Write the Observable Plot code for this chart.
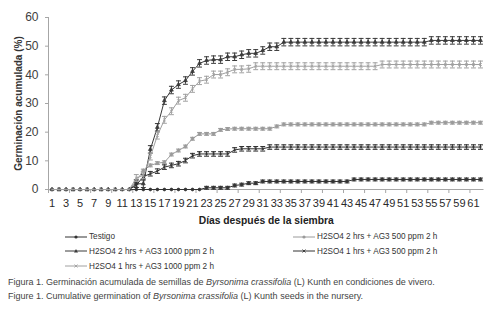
<!DOCTYPE html>
<html><head><meta charset="utf-8">
<script src="https://cdn.jsdelivr.net/npm/d3@7"></script>
<script src="https://cdn.jsdelivr.net/npm/@observablehq/plot@0.6"></script>
<style>
body{margin:0;background:#fff;}
#wrap{position:relative;width:491px;height:316px;overflow:hidden;font-family:"Liberation Sans",Arial,sans-serif;}
.leg{position:absolute;font-size:8.2px;color:#333;white-space:nowrap;display:flex;align-items:center;}
.leg svg{margin-right:1px;}
.cap{position:absolute;left:8px;font-size:9px;color:#444;white-space:nowrap;font-family:"Liberation Sans",sans-serif;}
</style></head>
<body><div id="wrap"></div>
<script>
// ---- data ----
const days = d3.range(1, 63);
const seriesNames = [
  "Testigo",
  "H2SO4 2 hrs + AG3 500 ppm 2 h",
  "H2SO4 2 hrs + AG3 1000 ppm 2 h",
  "H2SO4 1 hrs + AG3 500 ppm 2 h",
  "H2SO4 1 hrs + AG3 1000 ppm 2 h"
];
const testigo = [0,0,0,0,0,0,0,0,0,0,0,0,0,0,0,0,0,0,0,0,0,0,
  0.6,0.6,0.6,0.6,1.4,1.7,2.2,2.2,
  2.8,2.8,2.8,2.8,2.8,2.8,2.8,2.8,2.8,2.8,2.8,2.8,2.8,
  3.5,3.5,3.5,3.5,3.5,3.5,3.5,3.5,3.5,3.5,3.5,3.5,3.5,3.5,3.5,3.5,3.5,3.5,3.5];
const h2_500 = [0,0,0,0,0,0,0,0,0,0,0,0,
  3,6.6,8.4,9.2,9.5,12.2,13.6,15,17.7,19.4,19.4,19.4,20.8,21.1,21.2,21.2,21.2,21.2,21.2,21.2,22,
  22.7,22.7,22.7,22.7,22.7,22.7,22.7,22.7,22.7,22.7,22.7,22.7,22.7,22.7,22.7,22.7,22.7,22.7,22.7,22.7,22.7,
  23.3,23.3,23.3,23.3,23.3,23.3,23.3,23.3];
const h2_1000 = [0,0,0,0,0,0,0,0,0,0,0,0,
  2,2,14,21.7,31,34.7,36.6,38,41.2,44,45,45.3,45.3,46.3,46.3,47,47.5,47.5,48.5,49.8,49.8,
  51.4,51.4,51.4,51.4,51.4,51.4,51.4,51.4,51.4,51.4,51.4,51.4,51.4,51.4,51.4,51.4,51.4,51.4,51.4,51.4,51.4,
  52,52,52,52,52,52,52,52];
const h1_500 = [0,0,0,0,0,0,0,0,0,0,0,0,
  1.5,4.5,5.5,6.4,7.8,8.4,9,10.1,11.8,12.4,12.4,12.4,12.4,12.4,13.8,14.2,14.2,14.2,14.2,
  14.8,14.8,14.8,14.8,14.8,14.8,14.8,14.8,14.8,14.8,14.8,14.8,14.8,14.8,14.8,14.8,14.8,14.8,14.8,14.8,14.8,14.8,14.8,14.8,14.8,14.8,14.8,14.8,14.8,14.8,14.8];
const h1_1000 = [0,0,0,0,0,0,0,0,0,0,0,0,
  4,5,11.5,18.8,24.3,27.3,31,32,35.1,37.8,38.3,40.1,40.1,40.9,41.9,41.9,42.1,
  43,43,43,43,43,43,43,43,43,43,43,43,43,43,43,43,43,43,
  43.6,43.6,43.6,43.6,43.6,43.6,43.6,43.6,43.6,43.6,43.6,43.6,43.6,43.6,43.6];
const errors = [0.5, 0.5, 1.3, 0.8, 1.2];
const colors = ["#333333", "#9a9a9a", "#3a3a3a", "#333333", "#a0a0a0"];
const symbols = ["circle", "circle", "triangle", "times", "times"];
const yTicks = [0, 10, 20, 30, 40, 50, 60];
const xLabels = d3.range(1, 62, 2);
const xTickMarks = d3.range(0.5, 63, 3);
const xTitle = ["Días después de la siembra"];
const yTitle = ["Germinación acumulada (%)"];

const allValues = [testigo, h2_500, h2_1000, h1_500, h1_1000];
const rows = [];
allValues.forEach((vals, s) => vals.forEach((v, i) => rows.push({day: days[i], v, s, e: errors[s]})));
const withErr = rows.filter(d => d.v > 0);

const marks = [
  Plot.ruleX([0.5], {stroke: "#a6a6a6"}),
  Plot.ruleY([0], {stroke: "#a6a6a6"}),
  Plot.axisY({ticks: yTicks, tickSize: 3, tickPadding: 7, fontSize: 12, color: "#404040", stroke: "#a6a6a6", label: null}),
  Plot.axisX({ticks: xTickMarks, tickSize: 4, tickFormat: () => "", stroke: "#a6a6a6", label: null}),
  Plot.axisX({ticks: xLabels, tickSize: 0, tickPadding: 10, fontSize: 11, color: "#2a2a2a", label: null}),
  Plot.text(xTitle, {frameAnchor: "bottom", dy: 34, fontSize: 10.3, fontWeight: "bold", fill: "#222"}),
  Plot.text(yTitle, {frameAnchor: "left", textAnchor: "middle", dx: -30, rotate: -90, fontSize: 10, fontWeight: "bold", fill: "#333"})
];
allValues.forEach((vals, s) => {
  const pts = rows.filter(d => d.s === s);
  const ep = withErr.filter(d => d.s === s);
  marks.push(
    Plot.line(pts, {x: "day", y: "v", stroke: colors[s], strokeWidth: 1}),
    Plot.ruleX(ep, {x: "day", y1: d => d.v - d.e, y2: d => d.v + d.e, stroke: colors[s], strokeWidth: 1}),
    Plot.link(ep, {x1: d => d.day - 0.35, x2: d => d.day + 0.35, y1: d => d.v + d.e, y2: d => d.v + d.e, stroke: colors[s], strokeWidth: 1}),
    Plot.link(ep, {x1: d => d.day - 0.35, x2: d => d.day + 0.35, y1: d => d.v - d.e, y2: d => d.v - d.e, stroke: colors[s], strokeWidth: 1}),
    Plot.dot(pts, {x: "day", y: "v", symbol: symbols[s], r: 1.4, fill: symbols[s] === "times" ? "none" : colors[s], stroke: colors[s], strokeWidth: 0.8})
  );
});

const chart = Plot.plot({
  width: 491, height: 228,
  marginLeft: 48, marginRight: 7.5, marginTop: 17, marginBottom: 39,
  x: {domain: [0.5, 62.5], axis: null},
  y: {domain: [0, 60], axis: null},
  style: {fontFamily: "'Liberation Sans', Arial, sans-serif", background: "#fff"},
  marks
});
const wrap = document.getElementById("wrap");
wrap.appendChild(chart);

// legend
function markerSvg(s){
  const c = colors[s];
  let m = "";
  if (symbols[s] === "circle") m = `<circle cx="11" cy="4" r="1.6" fill="${c}"/>`;
  else if (symbols[s] === "triangle") m = `<path d="M11,2 L13,5.5 L9,5.5 Z" fill="${c}"/>`;
  else m = `<path d="M9.5,2.5 L12.5,5.5 M12.5,2.5 L9.5,5.5" stroke="${c}" stroke-width="0.9"/>`;
  return `<svg width="23" height="8"><line x1="0" y1="4" x2="22" y2="4" stroke="${c}" stroke-width="1"/>${m}</svg>`;
}
const legendPos = [[65, 236.5], [293, 236.5], [65, 251], [293, 251], [65, 266]];
seriesNames.forEach((n, s) => {
  const d = document.createElement("div");
  d.className = "leg";
  d.style.left = legendPos[s][0] + "px";
  d.style.top = (legendPos[s][1] - 6) + "px";
  d.style.height = "12px";
  d.innerHTML = markerSvg(s) + "<span>" + n + "</span>";
  wrap.appendChild(d);
});
const captions = [
  ["Figura 1. Germinación acumulada de semillas de ", "Byrsonima crassifolia", " (L) Kunth en condiciones de vivero."],
  ["Figure 1. Cumulative germination of ", "Byrsonima crassifolia", " (L) Kunth seeds in the nursery."]
];
const capY = [276.5, 291];
captions.forEach((c, i) => {
  const d = document.createElement("div");
  d.className = "cap";
  d.style.top = capY[i] + "px";
  d.innerHTML = c[0] + "<i>" + c[1] + "</i>" + c[2];
  wrap.appendChild(d);
});
</script></body></html>
